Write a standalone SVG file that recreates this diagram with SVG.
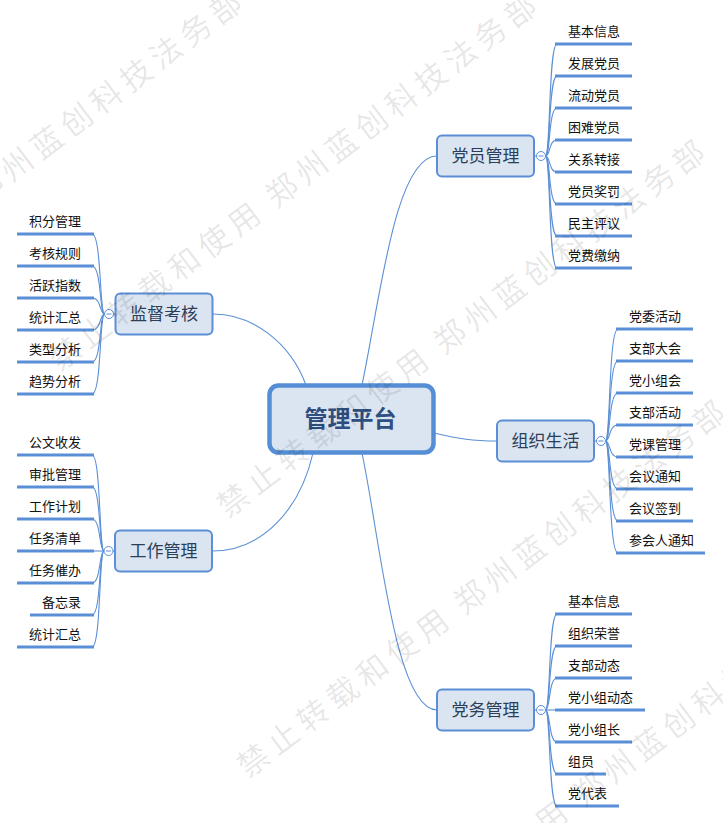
<svg xmlns="http://www.w3.org/2000/svg" width="723" height="823" viewBox="0 0 723 823">
<style>
.bg{fill:#ffffff}
.conn{fill:none;stroke:#5b8fd6;stroke-width:1.1}
.ul{fill:none;stroke:#5a8fd8;stroke-width:3}
.box{fill:#dbe5f1;stroke:#5b8ed6;stroke-width:2}
.root{fill:#dbe5f1;stroke:#558ed5;stroke-width:4.5}
.tog{fill:#ffffff;stroke:#5b8fd6;stroke-width:1}
.minus{stroke:#5b8fd6;stroke-width:1}
.lt{font-family:"Noto Sans CJK SC","Noto Sans",sans-serif;font-size:13px;fill:#111111}
.lr{text-anchor:end}
.mt{font-family:"Noto Sans CJK SC","Noto Sans",sans-serif;font-size:17px;fill:#2c3e58;text-anchor:middle}
.rt{font-family:"Noto Sans CJK SC","Noto Sans",sans-serif;font-size:23px;font-weight:bold;fill:#2e4f80;text-anchor:middle}
.wm{font-family:"Noto Sans CJK SC","Noto Sans",sans-serif;font-size:31px;fill:#000000;fill-opacity:0.1;letter-spacing:6.3px}
</style>
<rect class="bg" x="0" y="0" width="723" height="823"/>
<g id="connectors">
<path class="conn" d="M362 385 C380 300 395 156 437 156"/>
<path class="conn" d="M213 314 C252 314 290 342 306 385"/>
<path class="conn" d="M434 433 C460 439 472 441 497 441"/>
<path class="conn" d="M313 453 C300 510 262 551 212 551"/>
<path class="conn" d="M362 453 C380 538 395 710 437 710"/>
<path class="conn" d="M534 156 H536.5"/>
<path class="conn" d="M594 441 H596.5"/>
<path class="conn" d="M534 710 H536.5"/>
<path class="conn" d="M115.5 314 H113.5"/>
<path class="conn" d="M115 551 H113"/>
<path class="conn" d="M545.5 156 C550.5 156 548.5 44 557 44"/>
<path class="conn" d="M545.5 156 C550.5 156 548.5 76 557 76"/>
<path class="conn" d="M545.5 156 C550.5 156 548.5 108 557 108"/>
<path class="conn" d="M545.5 156 C550.5 156 548.5 140 557 140"/>
<path class="conn" d="M545.5 156 C550.5 156 548.5 172 557 172"/>
<path class="conn" d="M545.5 156 C550.5 156 548.5 204 557 204"/>
<path class="conn" d="M545.5 156 C550.5 156 548.5 236 557 236"/>
<path class="conn" d="M545.5 156 C550.5 156 548.5 268 557 268"/>
<path class="conn" d="M605.5 441 C610.5 441 608.5 329 618 329"/>
<path class="conn" d="M605.5 441 C610.5 441 608.5 361 618 361"/>
<path class="conn" d="M605.5 441 C610.5 441 608.5 393 618 393"/>
<path class="conn" d="M605.5 441 C610.5 441 608.5 425 618 425"/>
<path class="conn" d="M605.5 441 C610.5 441 608.5 457 618 457"/>
<path class="conn" d="M605.5 441 C610.5 441 608.5 489 618 489"/>
<path class="conn" d="M605.5 441 C610.5 441 608.5 521 618 521"/>
<path class="conn" d="M605.5 441 C610.5 441 608.5 553 618 553"/>
<path class="conn" d="M545.5 710 C550.5 710 548.5 614 557 614"/>
<path class="conn" d="M545.5 710 C550.5 710 548.5 646 557 646"/>
<path class="conn" d="M545.5 710 C550.5 710 548.5 678 557 678"/>
<path class="conn" d="M545.5 710 H557"/>
<path class="conn" d="M545.5 710 C550.5 710 548.5 742 557 742"/>
<path class="conn" d="M545.5 710 C550.5 710 548.5 774 557 774"/>
<path class="conn" d="M545.5 710 C550.5 710 548.5 806 557 806"/>
<path class="conn" d="M104.5 314 C99.5 314 101.5 234 92 234"/>
<path class="conn" d="M104.5 314 C99.5 314 101.5 266 92 266"/>
<path class="conn" d="M104.5 314 C99.5 314 101.5 298 92 298"/>
<path class="conn" d="M104.5 314 C99.5 314 101.5 330 92 330"/>
<path class="conn" d="M104.5 314 C99.5 314 101.5 362 92 362"/>
<path class="conn" d="M104.5 314 C99.5 314 101.5 394 92 394"/>
<path class="conn" d="M104 551 C99 551 101 455 92 455"/>
<path class="conn" d="M104 551 C99 551 101 487 92 487"/>
<path class="conn" d="M104 551 C99 551 101 519 92 519"/>
<path class="conn" d="M104 551 H92"/>
<path class="conn" d="M104 551 C99 551 101 583 92 583"/>
<path class="conn" d="M104 551 C99 551 101 615 92 615"/>
<path class="conn" d="M104 551 C99 551 101 647 92 647"/>
</g>
<g id="root">
<rect class="root" x="269.5" y="385.5" width="164" height="67" rx="9"/>
<text class="rt" x="350.5" y="427">管理平台</text>
</g>
<g id="n-dangyuan">
<rect class="box" x="437" y="135.5" width="97" height="41" rx="5"/>
<text class="mt" x="485.5" y="162.3">党员管理</text>
<circle class="tog" cx="541" cy="156" r="4.5"/><path class="minus" d="M538.5 156 H543.5"/>
</g>
<g id="n-jiandu">
<rect class="box" x="115.5" y="293.5" width="97" height="41" rx="5"/>
<text class="mt" x="164" y="320.3">监督考核</text>
<circle class="tog" cx="109" cy="314" r="4.5"/><path class="minus" d="M106.5 314 H111.5"/>
</g>
<g id="n-zuzhi">
<rect class="box" x="497" y="420.5" width="97" height="41" rx="5"/>
<text class="mt" x="545.5" y="447.3">组织生活</text>
<circle class="tog" cx="601" cy="441" r="4.5"/><path class="minus" d="M598.5 441 H603.5"/>
</g>
<g id="n-gongzuo">
<rect class="box" x="115" y="530.5" width="97" height="41" rx="5"/>
<text class="mt" x="163.5" y="557.3">工作管理</text>
<circle class="tog" cx="108.5" cy="551" r="4.5"/><path class="minus" d="M106 551 H111"/>
</g>
<g id="n-dangwu">
<rect class="box" x="437" y="689.5" width="97" height="41" rx="5"/>
<text class="mt" x="485.5" y="716.3">党务管理</text>
<circle class="tog" cx="541" cy="710" r="4.5"/><path class="minus" d="M538.5 710 H543.5"/>
</g>
<g id="leaves-dangyuan">
<g id="dy1"><path class="ul" d="M555 44 H632"/><text class="lt" x="568" y="36">基本信息</text></g>
<g id="dy2"><path class="ul" d="M555 76 H632"/><text class="lt" x="568" y="68">发展党员</text></g>
<g id="dy3"><path class="ul" d="M555 108 H632"/><text class="lt" x="568" y="100">流动党员</text></g>
<g id="dy4"><path class="ul" d="M555 140 H632"/><text class="lt" x="568" y="132">困难党员</text></g>
<g id="dy5"><path class="ul" d="M555 172 H632"/><text class="lt" x="568" y="164">关系转接</text></g>
<g id="dy6"><path class="ul" d="M555 204 H632"/><text class="lt" x="568" y="196">党员奖罚</text></g>
<g id="dy7"><path class="ul" d="M555 236 H632"/><text class="lt" x="568" y="228">民主评议</text></g>
<g id="dy8"><path class="ul" d="M555 268 H632"/><text class="lt" x="568" y="260">党费缴纳</text></g>
</g>
<g id="leaves-zuzhi">
<g id="zz1"><path class="ul" d="M616 329 H693"/><text class="lt" x="629" y="321">党委活动</text></g>
<g id="zz2"><path class="ul" d="M616 361 H693"/><text class="lt" x="629" y="353">支部大会</text></g>
<g id="zz3"><path class="ul" d="M616 393 H693"/><text class="lt" x="629" y="385">党小组会</text></g>
<g id="zz4"><path class="ul" d="M616 425 H693"/><text class="lt" x="629" y="417">支部活动</text></g>
<g id="zz5"><path class="ul" d="M616 457 H693"/><text class="lt" x="629" y="449">党课管理</text></g>
<g id="zz6"><path class="ul" d="M616 489 H693"/><text class="lt" x="629" y="481">会议通知</text></g>
<g id="zz7"><path class="ul" d="M616 521 H693"/><text class="lt" x="629" y="513">会议签到</text></g>
<g id="zz8"><path class="ul" d="M616 553 H705"/><text class="lt" x="629" y="545">参会人通知</text></g>
</g>
<g id="leaves-dangwu">
<g id="dw1"><path class="ul" d="M555 614 H632"/><text class="lt" x="568" y="606">基本信息</text></g>
<g id="dw2"><path class="ul" d="M555 646 H632"/><text class="lt" x="568" y="638">组织荣誉</text></g>
<g id="dw3"><path class="ul" d="M555 678 H632"/><text class="lt" x="568" y="670">支部动态</text></g>
<g id="dw4"><path class="ul" d="M555 710 H645"/><text class="lt" x="568" y="702">党小组动态</text></g>
<g id="dw5"><path class="ul" d="M555 742 H632"/><text class="lt" x="568" y="734">党小组长</text></g>
<g id="dw6"><path class="ul" d="M555 774 H606"/><text class="lt" x="568" y="766">组员</text></g>
<g id="dw7"><path class="ul" d="M555 806 H619"/><text class="lt" x="568" y="798">党代表</text></g>
</g>
<g id="leaves-jiandu">
<g id="jd1"><path class="ul" d="M17 234 H94"/><text class="lt lr" x="81" y="226">积分管理</text></g>
<g id="jd2"><path class="ul" d="M17 266 H94"/><text class="lt lr" x="81" y="258">考核规则</text></g>
<g id="jd3"><path class="ul" d="M17 298 H94"/><text class="lt lr" x="81" y="290">活跃指数</text></g>
<g id="jd4"><path class="ul" d="M17 330 H94"/><text class="lt lr" x="81" y="322">统计汇总</text></g>
<g id="jd5"><path class="ul" d="M17 362 H94"/><text class="lt lr" x="81" y="354">类型分析</text></g>
<g id="jd6"><path class="ul" d="M17 394 H94"/><text class="lt lr" x="81" y="386">趋势分析</text></g>
</g>
<g id="leaves-gongzuo">
<g id="gz1"><path class="ul" d="M17 455 H94"/><text class="lt lr" x="81" y="447">公文收发</text></g>
<g id="gz2"><path class="ul" d="M17 487 H94"/><text class="lt lr" x="81" y="479">审批管理</text></g>
<g id="gz3"><path class="ul" d="M17 519 H94"/><text class="lt lr" x="81" y="511">工作计划</text></g>
<g id="gz4"><path class="ul" d="M17 551 H94"/><text class="lt lr" x="81" y="543">任务清单</text></g>
<g id="gz5"><path class="ul" d="M17 583 H94"/><text class="lt lr" x="81" y="575">任务催办</text></g>
<g id="gz6"><path class="ul" d="M30 615 H94"/><text class="lt lr" x="81" y="607">备忘录</text></g>
<g id="gz7"><path class="ul" d="M17 647 H94"/><text class="lt lr" x="81" y="639">统计汇总</text></g>
</g>
<g id="watermark" transform="rotate(-37)">
<text class="wm" x="-138.5" y="153">郑州蓝创科技法务部</text>
<text class="wm" x="-176.4" y="333">禁止转载和使用</text>
<text class="wm" x="95" y="333">郑州蓝创科技法务部</text>
<text class="wm" x="-130.3" y="551">禁止转载和使用</text>
<text class="wm" x="141.2" y="551">郑州蓝创科技法务部</text>
<text class="wm" x="-270.9" y="771">禁止转载和使用</text>
<text class="wm" x="0.6" y="771">郑州蓝创科技法务部</text>
<text class="wm" x="-291.4" y="996">禁止转载和使用</text>
<text class="wm" x="-19.9" y="996">郑州蓝创科技法务部</text>
</g>
</svg>
